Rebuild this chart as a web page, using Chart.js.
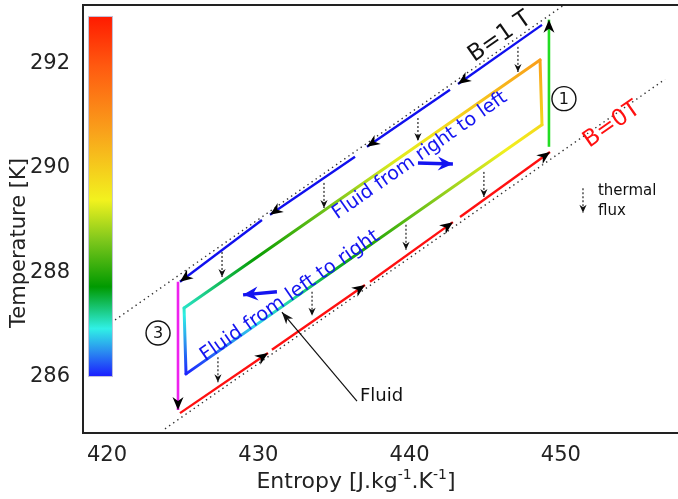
<!DOCTYPE html>
<html><head><meta charset="utf-8">
<script src="https://cdn.jsdelivr.net/npm/chart.js@4.4.0/dist/chart.umd.min.js"></script>
<style>html,body{margin:0;padding:0;background:#fff;overflow:hidden}canvas{display:block}</style>
</head><body>
<canvas id="c" width="678" height="499"></canvas>
<script>
// ---- tick labels ----
const entropyTicks = [420, 430, 440, 450];
const temperatureTicks = [286, 288, 290, 292];

// ---- dotted iso-field reference lines ----
const b1RefS = [420.53, 450.40];
const b1RefT = [287.09, 293.15];
const b0RefS = [423.83, 456.88];
const b0RefT = [285.01, 291.69];

// ---- B = 1 T branch (blue), right to left, one pair per segment ----
const b1SegS = [[448.75, 443.20], [442.67, 437.18], [436.39, 430.77], [430.24, 424.82]];
const b1SegT = [[292.73, 291.60], [291.49, 290.40], [290.21, 289.10], [289.00, 287.82]];
// ---- B = 0 T branch (red), left to right ----
const b0SegS = [[424.82, 430.64], [430.90, 437.05], [437.38, 442.86], [443.33, 449.28]];
const b0SegT = [[285.31, 286.46], [286.52, 287.76], [287.82, 288.96], [289.06, 290.30]];

// ---- step 1 (magnetisation) and step 3 (demagnetisation) ----
const step1S = [449.21, 449.21];
const step1T = [290.40, 292.83];
const step3S = [424.69, 424.69];
const step3T = [287.82, 285.37];

// ---- fluid cycle ----
const fluidS = [425.09, 448.62, 448.75, 425.22, 425.09];
const fluidT = [287.32, 292.06, 290.82, 286.06, 287.32];

// ---- thermal flux arrows (last one is the legend sample) ----
const fluxS    = [447.16, 440.55, 434.34, 427.60, 444.91, 439.76, 433.55, 427.33, 451.46];
const fluxTopT = [292.31, 290.95, 289.71, 288.39, 289.92, 288.91, 287.63, 286.38, 289.61];
const fluxBotT = [291.83, 290.51, 289.23, 287.91, 289.44, 288.43, 287.17, 285.90, 289.14];

// ---- flow direction arrows and pointer ----
const flowRightS = [440.55, 442.86];
const flowRightT = [290.09, 290.07];
const flowLeftS = [431.23, 428.99];
const flowLeftT = [287.63, 287.57];
const pointerS = [436.52, 431.56];
const pointerT = [285.54, 287.24];

// ---- colour map (jet-like, as the colour bar) ----
const cmapStops = [[0,'#1a1aff'],[0.07,'#2a8cf0'],[0.134,'#30f0e6'],[0.25,'#009a00'],[0.38,'#80c81c'],[0.49,'#f2f21e'],[0.68,'#f9a11b'],[0.86,'#ff5a10'],[1,'#ff1a00']];
const cbarLow = 286.0, cbarHigh = 292.9, fluidHigh = 294.8;

function hex(h){return [parseInt(h.slice(1,3),16),parseInt(h.slice(3,5),16),parseInt(h.slice(5,7),16)];}
function cmap(f){
  f = Math.max(0, Math.min(1, f));
  for (let i = 1; i < cmapStops.length; i++) {
    if (f <= cmapStops[i][0]) {
      const [f0,c0] = cmapStops[i-1], [f1,c1] = cmapStops[i];
      const t = (f - f0) / (f1 - f0), a = hex(c0), b = hex(c1);
      return 'rgb(' + a.map((v,k)=>Math.round(v + (b[k]-v)*t)).join(',') + ')';
    }
  }
  return cmapStops[cmapStops.length-1][1];
}

const cv = document.getElementById('c');
const g2d = cv.getContext('2d');
const FONT = '"DejaVu Sans", "Liberation Sans", sans-serif';

function pts(S, T){ return S.map((s,i)=>({x:s, y:T[i]})); }
function line(S, T, o){ return Object.assign({data: pts(S,T), showLine:true, pointRadius:0, pointHoverRadius:0, borderWidth:2, fill:false, tension:0}, o); }

const datasets = [];
datasets.push(line(b1RefS, b1RefT, {borderColor:'#333', borderWidth:1.4, borderDash:[1.4,3.6], order:9}));
datasets.push(line(b0RefS, b0RefT, {borderColor:'#333', borderWidth:1.4, borderDash:[1.4,3.6], order:9}));
datasets.push(line(fluidS, fluidT, {borderWidth:3, borderColor:'#888', borderCapStyle:'round', borderJoinStyle:'round', order:8,
  segment:{borderColor: c => {
    const p0 = c.p0, p1 = c.p1;
    const t0 = fluidT[c.p0DataIndex], t1 = fluidT[c.p1DataIndex];
    const g = g2d.createLinearGradient(p0.x, p0.y, p1.x, p1.y);
    for (let k = 0; k <= 10; k++) { const t = t0 + (t1-t0)*k/10; g.addColorStop(k/10, cmap((t-cbarLow)/(fluidHigh-cbarLow))); }
    return g;
  }}}));
const bigHead = {len:13, half:5.5, notch:4, color:'#000'};
b1SegS.forEach((s,i)=>datasets.push(line(s, b1SegT[i], {borderColor:'#1010ee', borderWidth:2.4, order:7, head:bigHead})));
b0SegS.forEach((s,i)=>datasets.push(line(s, b0SegT[i], {borderColor:'#ff1010', borderWidth:2.4, order:7, head:bigHead})));
datasets.push(line(step1S, step1T, {borderColor:'#22dd22', borderWidth:2.6, order:7, head:bigHead}));
datasets.push(line(step3S, step3T, {borderColor:'#ee22ee', borderWidth:2.6, order:7, head:bigHead}));
fluxS.forEach((s,i)=>datasets.push(line([s,s], [fluxTopT[i], fluxBotT[i]], {borderColor:'#222', borderWidth:1.2, borderDash:[2,2], order:6, head:{len:8, half:3.6, notch:2.5, color:'#111'}})));
const blueHead = {len:15, half:7, notch:5, color:'#1414f0'};
datasets.push(line(flowRightS, flowRightT, {borderColor:'#1414f0', borderWidth:3.5, order:5, head:blueHead}));
datasets.push(line(flowLeftS, flowLeftT, {borderColor:'#1414f0', borderWidth:3.5, order:5, head:blueHead}));
datasets.push(line(pointerS, pointerT, {borderColor:'#111', borderWidth:1.2, order:5, head:{len:12, half:4.5, notch:3.5, color:'#111'}}));

function arrowHead(ctx, x0, y0, x1, y1, h){
  const a = Math.atan2(y1-y0, x1-x0);
  ctx.save(); ctx.translate(x1, y1); ctx.rotate(a);
  ctx.beginPath(); ctx.moveTo(0,0); ctx.lineTo(-h.len, -h.half); ctx.lineTo(-h.len + h.notch, 0); ctx.lineTo(-h.len, h.half); ctx.closePath();
  ctx.fillStyle = h.color; ctx.fill(); ctx.restore();
}

const deco = {
  id: 'deco',
  beforeDatasetsDraw(chart){
    const {ctx, scales:{x, y}} = chart;
    const x0 = x.getPixelForValue(418.74), x1 = x.getPixelForValue(420.39);
    const yb = y.getPixelForValue(cbarLow), yt = y.getPixelForValue(cbarHigh);
    const g = ctx.createLinearGradient(0, yb, 0, yt);
    cmapStops.forEach(s => g.addColorStop(s[0], s[1]));
    ctx.save();
    ctx.fillStyle = g; ctx.fillRect(x0, yt, x1-x0, yb-yt);
    ctx.strokeStyle = '#c4c4dc'; ctx.lineWidth = 1; ctx.strokeRect(x0+0.5, yt+0.5, x1-x0-1, yb-yt-1);
    ctx.restore();
  },
  afterDatasetsDraw(chart){
    const {ctx, chartArea:ca, scales:{x, y}} = chart;
    chart.data.datasets.forEach((ds, i) => {
      if (!ds.head) return;
      const m = chart.getDatasetMeta(i).data, n = m.length;
      arrowHead(ctx, m[n-2].x, m[n-2].y, m[n-1].x, m[n-1].y, ds.head);
    });
    ctx.save();
    ctx.strokeStyle = '#222'; ctx.lineWidth = 2;
    ctx.beginPath(); ctx.moveTo(ca.left - 1, ca.top); ctx.lineTo(ca.right, ca.top); ctx.stroke();

    const P = (s, t) => [x.getPixelForValue(s), y.getPixelForValue(t)];
    const rot = -35 * Math.PI / 180;
    function rtext(txt, s, t, size, color){
      const [px, py] = P(s, t);
      ctx.save(); ctx.translate(px, py); ctx.rotate(rot);
      ctx.font = size + 'px ' + FONT; ctx.fillStyle = color; ctx.textAlign = 'center'; ctx.textBaseline = 'middle';
      ctx.fillText(txt, 0, 0); ctx.restore();
    }
    rtext('B=1 T', 445.97, 292.50, 23, '#111');
    rtext('B=0T', 453.37, 290.82, 23, '#ff1010');
    rtext('Fluid from right to left', 440.68, 290.23, 19, '#1414f0');
    rtext('Fluid from left to right', 432.09, 287.55, 19.5, '#1414f0');

    function ltext(txt, s, t, size){
      const [px, py] = P(s, t);
      ctx.font = size + 'px ' + FONT; ctx.fillStyle = '#111'; ctx.textAlign = 'left'; ctx.textBaseline = 'middle';
      ctx.fillText(txt, px, py);
    }
    ltext('Fluid', 436.72, 285.64, 18);
    ltext('thermal', 452.45, 289.56, 15);
    ltext('flux', 452.45, 289.17, 15);

    function circ(txt, s, t){
      const [px, py] = P(s, t);
      ctx.beginPath(); ctx.arc(px, py, 12, 0, Math.PI*2); ctx.lineWidth = 1.4; ctx.strokeStyle = '#111'; ctx.stroke();
      ctx.font = '16px ' + FONT; ctx.fillStyle = '#111'; ctx.textAlign = 'center'; ctx.textBaseline = 'middle';
      ctx.fillText(txt, px, py + 1);
    }
    circ('1', 450.20, 291.32);
    circ('3', 423.37, 286.84);

    ctx.fillStyle = '#222'; ctx.textBaseline = 'alphabetic'; ctx.textAlign = 'left';
    const parts = [['Entropy [J.kg', 0], ['-1', 1], ['.K', 0], ['-1', 1], [']', 0]];
    const big = '22px ' + FONT, small = '14px ' + FONT;
    let w = 0;
    parts.forEach(p => { ctx.font = p[1] ? small : big; w += ctx.measureText(p[0]).width; });
    let cx = 356 - w/2;
    parts.forEach(p => { ctx.font = p[1] ? small : big; ctx.fillText(p[0], cx, p[1] ? 479 : 488); cx += ctx.measureText(p[0]).width; });
    ctx.save(); ctx.translate(20, 243); ctx.rotate(-Math.PI/2);
    ctx.font = '21px ' + FONT; ctx.textAlign = 'center'; ctx.textBaseline = 'middle';
    ctx.fillText('Temperature [K]', 0, 0); ctx.restore();
    ctx.restore();
  }
};

new Chart(cv, {
  type: 'scatter',
  data: { datasets },
  options: {
    responsive: false, animation: false, devicePixelRatio: 1,
    layout: { padding: { left: 0, top: 5, right: 0, bottom: 0 } },
    plugins: { legend: { display: false }, tooltip: { enabled: false } },
    scales: {
      x: {
        type: 'linear', min: 418.41, max: 457.74,
        grid: { display: false }, border: { display: true, color: '#222', width: 2 },
        afterBuildTicks: s => { s.ticks = entropyTicks.map(v => ({ value: v })); },
        afterFit: s => { s.height = 66; s.paddingLeft = 0; s.paddingRight = 0; },
        ticks: { color: '#222', padding: 2, font: { family: FONT, size: 21 }, maxRotation: 0 }
      },
      y: {
        type: 'linear', min: 284.93, max: 293.11,
        grid: { display: false }, border: { display: true, color: '#222', width: 2 },
        afterBuildTicks: s => { s.ticks = temperatureTicks.map(v => ({ value: v })); },
        afterFit: s => { s.width = 83; s.paddingTop = 0; s.paddingBottom = 0; },
        ticks: { color: '#222', padding: 5, font: { family: FONT, size: 21 } }
      }
    }
  },
  plugins: [deco]
});
</script>
</body></html>
